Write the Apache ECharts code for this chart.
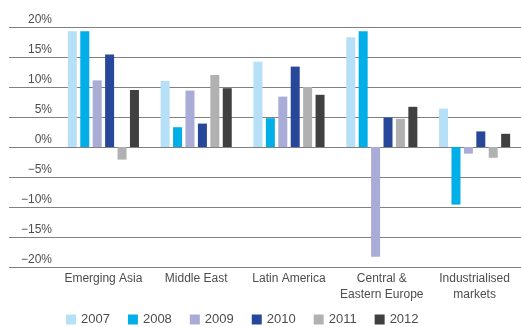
<!DOCTYPE html>
<html>
<head>
<meta charset="utf-8">
<script src="https://cdn.jsdelivr.net/npm/echarts@6/dist/echarts.min.js"></script>
<style>
  html, body { margin: 0; padding: 0; background: #fff; }
  #chart { width: 521px; height: 327px; }
</style>
</head>
<body>
<div id="chart"></div>
<script>
// Real GDP growth by region, 2007–2012 (%)
const categories = ['Emerging Asia', 'Middle East', 'Latin America', 'Central &\nEastern Europe', 'Industrialised\nmarkets'];
const years = ['2007', '2008', '2009', '2010', '2011', '2012'];
const growth2007 = [19.3, 11.0, 14.2, 18.3, 6.4];
const growth2008 = [19.3, 3.3, 4.8, 19.3, -9.6];
const growth2009 = [11.1, 9.4, 8.4, -18.3, -1.1];
const growth2010 = [15.4, 3.9, 13.4, 4.9, 2.6];
const growth2011 = [-2.1, 12.0, 10.0, 4.7, -1.8];
const growth2012 = [9.5, 9.8, 8.7, 6.7, 2.2];
const colors = ['#b5e0f7', '#00aee8', '#a8acd6', '#26479a', '#b1b1b1', '#404040'];

const seriesValues = [growth2007, growth2008, growth2009, growth2010, growth2011, growth2012];
const FONT = 'Liberation Sans';
const TEXT = '#4d4d4d';

const chart = echarts.init(document.getElementById('chart'), null, { renderer: 'canvas' });

const pctLabel = v => (v < 0 ? '\u2212' + Math.abs(v) : v) + '%';

chart.setOption({
  animation: false,
  color: colors,
  textStyle: { fontFamily: FONT },
  grid: [
    { left: 57, right: -2, top: 27, bottom: 60 },
    { left: 9, right: 0, top: 27, bottom: 60 }
  ],
  legend: {
    data: years,
    top: 313,
    left: 66,
    padding: 0,
    icon: 'rect',
    itemWidth: 10,
    itemHeight: 10,
    itemGap: 18,
    textStyle: { color: TEXT, fontSize: 13, fontFamily: FONT }
  },
  xAxis: [
    {
      type: 'category',
      gridIndex: 0,
      data: categories,
      axisLine: { show: false },
      axisTick: { show: false },
      axisLabel: {
        color: TEXT, fontSize: 12, fontFamily: FONT,
        margin: 4, lineHeight: 16, interval: 0, verticalAlign: 'top'
      }
    },
    { type: 'value', gridIndex: 1, show: false, min: 0, max: 1 }
  ],
  yAxis: [
    {
      type: 'value',
      gridIndex: 0,
      min: -20, max: 20, interval: 5,
      axisLine: { show: false },
      axisTick: { show: false },
      splitLine: { show: false },
      axisLabel: {
        color: TEXT, fontSize: 12, fontFamily: FONT,
        margin: 5, verticalAlign: 'bottom', padding: [0, 0, 1, 0],
        formatter: pctLabel
      }
    },
    {
      type: 'value',
      gridIndex: 1,
      min: -20, max: 20, interval: 5,
      axisLine: { show: false },
      axisTick: { show: false },
      axisLabel: { show: false },
      splitLine: { show: true, lineStyle: { color: '#808080', width: 1 } }
    }
  ],
  series: years.map((y, i) => ({
    name: y,
    type: 'bar',
    xAxisIndex: 0,
    yAxisIndex: 0,
    barWidth: 9,
    barGap: '38%',
    data: seriesValues[i],
    itemStyle: { color: colors[i] },
    z: 3
  }))
});
</script>
</body>
</html>
